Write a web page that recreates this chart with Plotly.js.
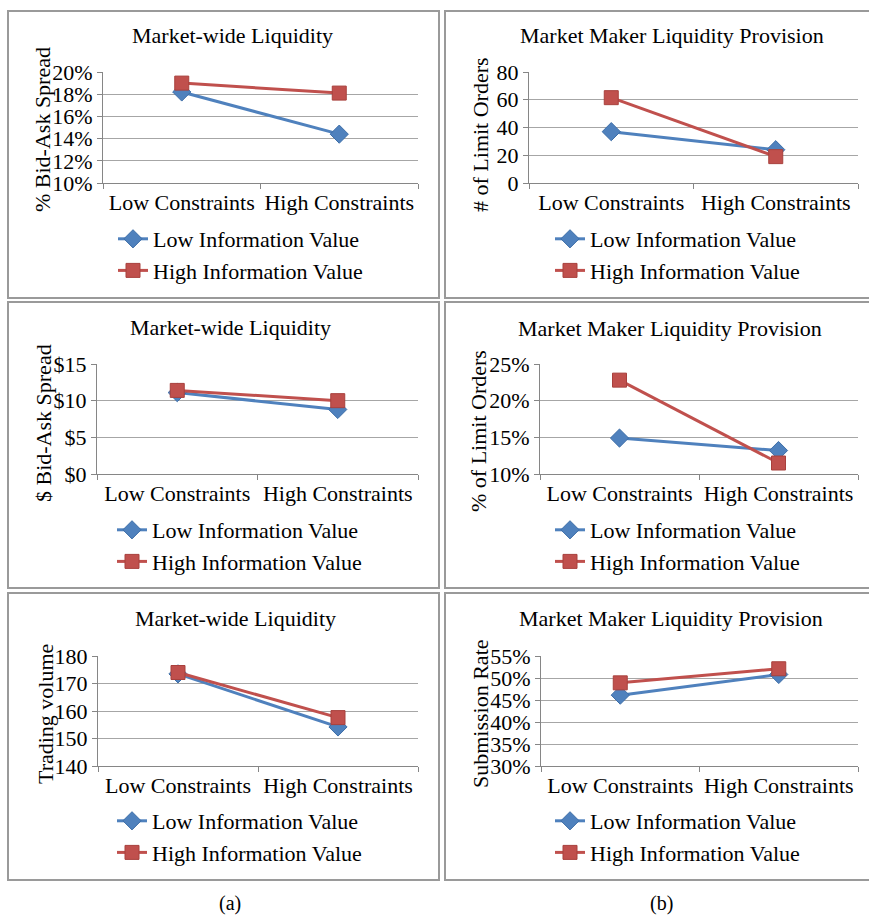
<!DOCTYPE html>
<html>
<head>
<meta charset="utf-8">
<script src="https://cdn.plot.ly/plotly-3.0.1.min.js"></script>
<style>
html,body{margin:0;padding:0;background:#fff;}
#chart{width:869px;height:915px;}
</style>
</head>
<body>
<div id="chart"></div>
<script>
// ---------- DATA ----------
const categories = ['Low Constraints', 'High Constraints'];
const seriesNames = ['Low Information Value', 'High Information Value'];

const pctSpreadLow = [0.182, 0.144];
const pctSpreadHigh = [0.190, 0.181];

const limitOrdersLow = [37, 24];
const limitOrdersHigh = [61.5, 19];

const dollarSpreadLow = [11.1, 8.8];
const dollarSpreadHigh = [11.4, 10.0];

const pctLimitLow = [0.149, 0.132];
const pctLimitHigh = [0.228, 0.115];

const volumeLow = [173.5, 154.2];
const volumeHigh = [174.0, 157.6];

const submissionLow = [0.461, 0.508];
const submissionHigh = [0.489, 0.521];

const panelTitles = ['Market-wide Liquidity', 'Market Maker Liquidity Provision',
  'Market-wide Liquidity', 'Market Maker Liquidity Provision',
  'Market-wide Liquidity', 'Market Maker Liquidity Provision'];
const yTitles = ['% Bid-Ask Spread', '# of Limit Orders', '$ Bid-Ask Spread',
  '% of Limit Orders', 'Trading volume', 'Submission Rate'];
const captions = ['(a)', '(b)'];

const panelData = [
  [pctSpreadLow, pctSpreadHigh],
  [limitOrdersLow, limitOrdersHigh],
  [dollarSpreadLow, dollarSpreadHigh],
  [pctLimitLow, pctLimitHigh],
  [volumeLow, volumeHigh],
  [submissionLow, submissionHigh]
];

// ---------- LAYOUT GEOMETRY (px) ----------
const W = 869, H = 915;
const px = x => x / W;
const py = y => 1 - y / H;

const panels = [
  {plot:[103,418,72,183], range:[0.10,0.20], dtick:0.02, fmt:'.0%', pre:'', title:[233,35], ytitle:[43,130], legX:155, legY:240, box:[8,439,11,298]},
  {plot:[529,858,72,183], range:[0,80], dtick:20, fmt:'', pre:'', title:[672,35], ytitle:[480,134], legX:592, legY:240, box:[445,872,11,298]},
  {plot:[97,418,364,474], range:[0,15], dtick:5, fmt:'', pre:'$', title:[230,327], ytitle:[43,423], legX:154, legY:531, box:[8,439,302,588]},
  {plot:[540,858,364,474], range:[0.10,0.25], dtick:0.05, fmt:'.0%', pre:'', title:[670,328], ytitle:[478,431], legX:592, legY:531, box:[445,872,302,588]},
  {plot:[98,418,656,766], range:[140,180], dtick:10, fmt:'', pre:'', title:[236,618], ytitle:[45,714], legX:154, legY:822, box:[8,439,593,880]},
  {plot:[541,858,656,766], range:[0.30,0.55], dtick:0.05, fmt:'.0%', pre:'', title:[671,618], ytitle:[480,713], legX:592, legY:822, box:[445,872,593,880]}
];
const captionPos = [[230,903],[661,903]];

const FONT = 'Liberation Serif, Times New Roman, serif';
const FS = 22;
const blue = '#4F81BD', red = '#C0504D';
const gridCol = '#a6a6a6', axisCol = '#868686', boxCol = '#9a9a9a';

const traces = [];
const layout = {
  width: W, height: H,
  margin: {l:0, r:0, t:0, b:0},
  paper_bgcolor: '#fff', plot_bgcolor: '#fff',
  font: {family: FONT, size: FS, color: '#000'},
  showlegend: true,
  annotations: [], shapes: []
};

panels.forEach((p, i) => {
  const n = i + 1;
  const xa = n === 1 ? 'x' : 'x' + n;
  const ya = n === 1 ? 'y' : 'y' + n;
  const lg = n === 1 ? 'legend' : 'legend' + n;
  const [low, high] = panelData[i];

  traces.push({
    type:'scatter', mode:'lines+markers', x: categories, y: low, name: seriesNames[0],
    xaxis: xa, yaxis: ya, legend: lg,
    line: {color: blue, width: 3},
    marker: {symbol:'diamond', size: 14, color: blue, line:{color:'#3d6ea8', width:1}}
  });
  traces.push({
    type:'scatter', mode:'lines+markers', x: categories, y: high, name: seriesNames[1],
    xaxis: xa, yaxis: ya, legend: lg,
    line: {color: red, width: 3},
    marker: {symbol:'square', size: 14, color: red, line:{color:'#a8403d', width:1}}
  });

  const xk = n === 1 ? 'xaxis' : 'xaxis' + n;
  const yk = n === 1 ? 'yaxis' : 'yaxis' + n;
  layout[xk] = {
    domain: [px(p.plot[0]), px(p.plot[1])],
    anchor: ya, type: 'category', range: [-0.5, 1.5],
    showline: true, linecolor: axisCol, linewidth: 1,
    ticks: 'outside', ticklen: 5, tickcolor: axisCol, tickson: 'boundaries',
    tickangle: 0, automargin: false,
    showgrid: false, zeroline: false, fixedrange: true,
    tickfont: {family: FONT, size: FS, color: '#000'}
  };
  layout[yk] = {
    domain: [py(p.plot[3]), py(p.plot[2])],
    anchor: xa, range: p.range, dtick: p.dtick, tick0: p.range[0],
    tickformat: p.fmt, tickprefix: p.pre, automargin: false,
    showline: true, linecolor: axisCol, linewidth: 1,
    ticks: 'outside', ticklen: 5, tickcolor: axisCol,
    showgrid: true, gridcolor: gridCol, gridwidth: 1, zeroline: false, fixedrange: true,
    tickfont: {family: FONT, size: FS, color: '#000'}
  };
  layout[lg] = {
    x: px(p.legX - 42), y: py(p.legY - 22), xanchor: 'left', yanchor: 'top',
    bgcolor: 'rgba(0,0,0,0)', borderwidth: 0,
    font: {family: FONT, size: FS, color: '#000'},
    orientation: 'v', traceorder: 'normal'
  };

  layout.annotations.push({
    xref:'paper', yref:'paper', x: px(p.title[0]), y: py(p.title[1]),
    xanchor:'center', yanchor:'middle', showarrow:false,
    text: panelTitles[i], font: {family: FONT, size: FS, color:'#000'}
  });
  layout.annotations.push({
    xref:'paper', yref:'paper', x: px(p.ytitle[0]), y: py(p.ytitle[1]),
    xanchor:'center', yanchor:'middle', showarrow:false, textangle: -90,
    text: yTitles[i], font: {family: FONT, size: FS, color:'#000'}
  });
  layout.shapes.push({
    type:'rect', xref:'paper', yref:'paper',
    x0: px(p.box[0]), x1: px(p.box[1]), y0: py(p.box[3]), y1: py(p.box[2]),
    line: {color: boxCol, width: 2}, fillcolor: 'rgba(0,0,0,0)'
  });
});

captions.forEach((c, i) => {
  layout.annotations.push({
    xref:'paper', yref:'paper', x: px(captionPos[i][0]), y: py(captionPos[i][1]),
    xanchor:'center', yanchor:'middle', showarrow:false, borderpad: 0,
    text: c, font: {family: FONT, size: 20, color:'#000'}
  });
});

Plotly.newPlot('chart', traces, layout, {staticPlot: true, displayModeBar: false});
</script>
</body>
</html>
